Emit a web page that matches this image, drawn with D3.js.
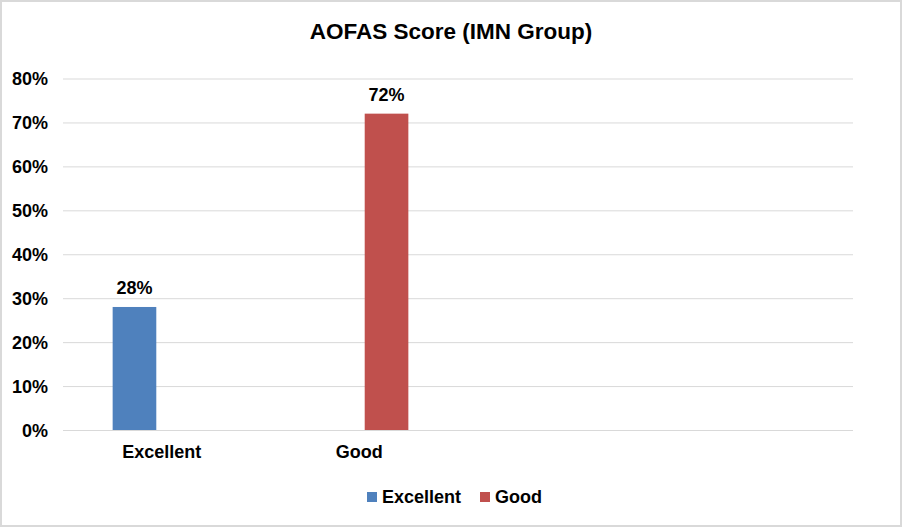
<!DOCTYPE html>
<html>
<head>
<meta charset="utf-8">
<script src="https://cdn.jsdelivr.net/npm/d3@7"></script>
<style>
  html, body { margin: 0; padding: 0; background: #fff; }
  text { font-family: "Liberation Sans", Arial, sans-serif; font-weight: bold; fill: #000; }
</style>
</head>
<body>
<svg id="chart" width="902" height="527"></svg>
<script>
const title = "AOFAS Score (IMN Group)";
const categories = ["Excellent", "Good", "", " "];
const seriesNames = ["Excellent", "Good"];
const seriesColors = ["#4F81BD", "#C0504D"];
// values per series, per category (null = no bar)
const excellentValues = [0.28, null, null, null];
const goodValues = [null, 0.72, null, null];
const yTicks = [0, 0.1, 0.2, 0.3, 0.4, 0.5, 0.6, 0.7, 0.8];

const svg = d3.select("#chart");
const W = 902, H = 527;
const m = { left: 63, right: 49, top: 78.5, bottom: 97 };
const plotW = W - m.left - m.right;
const plotH = H - m.top - m.bottom;

svg.append("rect").attr("x", 1).attr("y", 1).attr("width", W - 2).attr("height", H - 2)
  .attr("fill", "#fff").attr("stroke", "#d9d9d9").attr("stroke-width", 2);

const g = svg.append("g").attr("transform", `translate(${m.left},${m.top})`);

const x0 = d3.scaleBand().domain(categories).range([0, plotW]).paddingInner(0).paddingOuter(0);
const x1 = d3.scaleBand().domain(seriesNames).range([0, x0.bandwidth()]).paddingInner(0.2).paddingOuter(0.91);
const y = d3.scaleLinear().domain([0, 0.8]).range([plotH, 0]);

// gridlines
const yAxis = d3.axisLeft(y).tickValues(yTicks).tickSize(-plotW).tickFormat(d3.format(".0%"));
const ya = g.append("g").call(yAxis);
ya.select(".domain").remove();
ya.selectAll(".tick line").attr("stroke", "#d9d9d9").attr("stroke-width", 1);
ya.selectAll(".tick text").attr("x", -15).attr("dy", "0.35em")
  .style("font-size", "18px").style("font-family", "Liberation Sans, Arial, sans-serif").style("font-weight", "bold").attr("fill", "#000");

// category axis
const xa = g.append("g").attr("transform", `translate(0,${plotH})`)
  .call(d3.axisBottom(x0).tickSize(0).tickPadding(0));
xa.select(".domain").remove();
xa.selectAll(".tick text").attr("y", 28).attr("dy", 0)
  .style("font-size", "18px").style("font-family", "Liberation Sans, Arial, sans-serif").style("font-weight", "bold").attr("fill", "#000");

const seriesData = [excellentValues, goodValues];
seriesNames.forEach((s, si) => {
  const vals = seriesData[si];
  const data = categories.map((c, i) => ({ c, v: vals[i] })).filter(d => d.v != null);
  g.selectAll(".bar" + si).data(data).enter().append("rect")
    .attr("x", d => x0(d.c) + x1(s))
    .attr("y", d => y(d.v))
    .attr("width", x1.bandwidth())
    .attr("height", d => plotH - y(d.v))
    .attr("fill", seriesColors[si]);
  g.selectAll(".lbl" + si).data(data).enter().append("text")
    .attr("x", d => x0(d.c) + x1(s) + x1.bandwidth() / 2)
    .attr("y", d => y(d.v) - 13)
    .attr("text-anchor", "middle")
    .style("font-size", "18px")
    .text(d => d3.format(".0%")(d.v));
});

// title
svg.append("text").attr("x", 451).attr("y", 38.5).attr("text-anchor", "middle")
  .style("font-size", "22.5px").text(title);

// legend
const legendX = [367, 480];
const lg = svg.append("g");
seriesNames.forEach((s, i) => {
  lg.append("rect").attr("x", legendX[i]).attr("y", 492).attr("width", 10).attr("height", 10).attr("fill", seriesColors[i]);
  lg.append("text").attr("x", legendX[i] + 15).attr("y", 503).style("font-size", "18px").text(s);
});
</script>
</body>
</html>
